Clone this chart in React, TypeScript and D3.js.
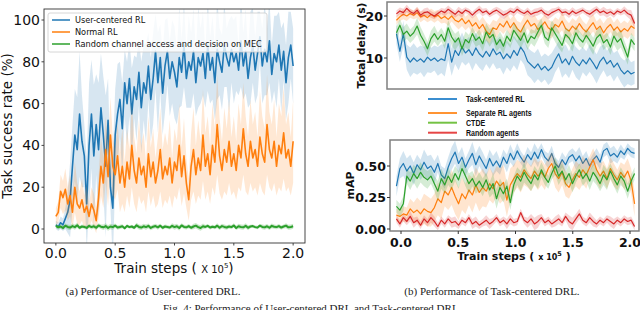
import React from 'react';
import * as d3 from 'd3';

// ---------------- Left panel: User-centered DRL (task success rate %) ----------------
const leftXTicks = [0, 0.5, 1.0, 1.5, 2.0];
const leftYTicks = [0, 20, 40, 60, 80, 100];

const userCenteredRL = [2,1,3,2,5,8,14,30,45,38,55,42,35,12,40,55,35,50,38,58,45,30,52,20,10,45,55,62,48,70,60,72,55,68,62,75,58,70,65,78,62,72,85,70,82,65,78,85,72,80,75,68,82,75,88,72,80,76,85,70,82,78,84,72,88,76,82,70,86,80,75,88,82,78,86,80,84,76,90,78,85,72,82,88,76,84,92,78,86,80,90,74,84,80,88,76,85,70,82,88,78];
const userCenteredSpread = [2,2,3,3,5,10,18,20,22,25,30,22,15,22,30,26,34,24,32,26,28,34,20,10,26,22,24,18,22,16,20,18,22,15,20,16,22,18,24,16,20,22,18,24,16,20,22,16,18,20,22,18,24,16,20,14,22,18,20,16,24,18,20,14,22,16,20,18,24,16,18,20,14,22,16,20,18,12,22,16,20,14,22,18,16,20,12,18,22,16,20,14,18,22,16,20,14,18,22,16,18];

const normalRL = [6,8,18,15,19,12,16,8,20,12,10,14,8,11,6,12,9,4,15,30,22,38,25,45,30,26,35,22,30,20,32,24,40,28,22,34,26,30,20,36,25,32,22,28,38,24,30,26,34,22,32,28,40,25,35,22,14,30,38,26,34,28,45,30,36,26,40,32,50,35,28,38,32,42,30,36,28,40,34,48,36,30,42,34,38,30,44,36,32,50,38,34,42,30,40,36,46,34,38,30,42];
const normalSpread = [4,5,8,8,10,8,10,8,12,10,8,10,8,10,6,8,8,6,10,14,12,16,14,18,14,12,16,14,18,12,16,14,20,16,14,18,14,16,12,18,14,16,12,16,20,14,16,14,18,12,16,14,20,14,18,12,10,16,20,14,18,14,22,16,18,14,20,16,24,18,14,20,16,20,14,18,14,20,16,22,18,14,20,16,18,14,22,18,16,24,18,16,20,14,20,18,22,16,18,14,20];

const randomMEC = [1.5,0.8,1.2,0.5,1.6,1.0,0.7,1.4,0.9,1.8,0.6,1.2,1.0,0.5,1.5,0.9,1.3,0.6,1.7,1.1,0.8,1.4,0.5,1.2,0.9,1.6,0.7,1.0,1.3,0.4,1.5,0.9,1.2,0.6,1.8,1.0,0.7,1.3,0.9,1.5,0.5,1.1,1.4,0.8,1.6,0.6,1.2,1.0,0.7,1.5,0.9,1.3,0.5,1.7,1.0,0.8,1.4,0.6,1.2,1.6,0.9,0.5,1.3,1.0,1.5,0.7,1.1,0.8,1.6,0.6,1.4,1.0,0.7,1.2,0.9,1.7,0.5,1.3,1.0,0.8,1.5,0.6,1.2,1.4,0.9,0.7,1.6,1.0,0.8,1.3,0.6,1.5,1.1,0.9,1.4,0.7,1.2,1.6,0.8,1.0,1.3];
const randomMECSpread = [1.0,1.2,0.9,1.1,1.3,1.0,0.8,1.2,1.1,0.9,1.2,1.0,1.3,0.9,1.1,1.0,1.2,0.8,1.1,1.0,1.2];

// ---------------- Right panels: Task-centered DRL ----------------
const rightXTicks = [0, 0.5, 1.0, 1.5, 2.0];
const delayTicks = [10, 20];
const mapTicks = [0, 0.25, 0.5];

const delayTaskRL = [15.8,11.6,15.8,10.2,9.0,10.0,9.2,9.8,9.0,10.2,9.4,10.0,9.2,9.8,9.4,13.4,9.0,11.8,10.6,12.6,11.2,12.0,10.6,12.4,11.0,10.2,11.6,10.4,12.2,10.8,11.4,9.8,11.0,10.0,11.8,10.6,12.6,11.4,9.2,8.4,7.6,8.6,7.2,8.0,7.0,7.8,9.6,11.0,8.8,9.8,8.4,10.4,9.0,8.2,9.6,8.6,10.0,8.8,7.4,9.2,10.2,8.6,9.4,7.8,8.8,7.2,6.2,7.0,6.2,6.6];
const delayTaskSpread = [2.5,3.0,3.5,3.2,3.6,3.0,3.4,3.8,3.2,3.5,3.0,3.6,3.3,3.0,3.4,3.7,3.2,3.5,3.0,3.3,3.6,3.1,3.4,3.0,3.5,3.2,3.6,3.0,3.3,3.5,3.1,3.4,3.0,3.2,2.8];
const delaySeparate = [19.0,19.8,20.4,20.0,20.6,20.2,20.8,19.8,20.2,19.6,20.4,19.8,20.2,19.4,19.9,19.2,20.0,19.0,18.6,19.4,18.2,19.0,17.6,18.4,17.0,18.0,16.4,15.6,17.2,16.8,18.2,17.4,18.8,17.2,18.4,17.0,16.2,17.8,19.0,17.6,18.2,16.8,17.6,18.6,17.2,16.6,18.0,17.4,18.8,17.0,16.4,17.6,16.8,18.2,17.0,16.2,17.4,18.4,16.8,17.6,16.0,17.2,18.0,16.6,17.4,16.2,17.0,16.4,17.6,17.0];
const delaySeparateSpread = [1.0,1.2,1.0,1.3,1.1,1.4,1.2,1.5,1.3,1.8,1.6,2.0,1.8,2.2,1.9,1.7,2.0,1.8,2.2,1.9,2.1,1.8,2.0,1.7,2.2,1.9,2.0,1.8,2.1,1.9,2.2,1.8,2.0,1.9,2.0];
const delayCTDE = [16.0,17.8,15.6,16.4,15.2,16.0,17.6,15.4,14.0,12.2,14.6,15.8,14.4,15.6,14.0,17.2,15.0,13.8,14.8,12.2,14.4,13.6,15.8,14.2,15.0,13.4,16.2,14.8,15.6,13.2,14.4,12.8,15.2,14.0,16.6,15.4,14.2,16.0,13.6,15.2,14.6,16.2,17.8,15.0,14.2,17.2,15.8,14.4,13.0,15.6,14.8,13.4,16.0,14.6,13.8,15.4,14.2,12.8,14.8,15.6,13.6,14.4,12.6,15.2,13.8,14.6,12.4,10.2,14.4,13.2];
const delayCTDESpread = [1.5,1.8,1.6,2.0,1.7,1.9,1.6,1.8,2.0,1.7,1.9,1.6,1.8,2.1,1.7,1.9,1.6,1.8,2.0,1.7,1.9,1.6,1.8,2.0,1.7,1.9,1.8,1.6,2.0,1.8,1.7,1.9,2.1,1.8,1.6];
const delayRandom = [20.5,21.2,20.8,21.8,21.0,20.6,21.4,20.2,20.8,21.0,20.4,20.0,20.6,21.2,20.8,21.6,21.0,20.4,21.2,20.6,21.4,21.0,20.2,21.0,21.6,20.8,21.2,20.4,21.0,21.4,20.8,20.2,20.6,21.2,20.8,21.6,21.0,20.6,21.2,20.4,20.8,21.0,21.4,20.6,20.2,20.8,21.2,21.6,20.8,21.0,20.4,21.2,20.6,21.0,21.4,20.8,20.4,21.0,21.6,20.8,21.2,20.6,21.0,20.4,21.2,20.8,21.4,20.6,20.2,18.2];
const delayRandomSpread = [0.8,0.9,0.7,0.8,1.0,0.8,0.7,0.9,0.8,1.0,0.7,0.8,0.9,0.7,0.8,1.0,0.8,0.9,0.7,0.8,0.9,0.8,1.0,0.7,0.8,0.9,0.8,0.7,0.9,0.8,1.0,0.8,0.7,0.9,1.2];

const mapTaskRL = [0.34,0.48,0.52,0.46,0.50,0.44,0.51,0.47,0.53,0.48,0.50,0.45,0.52,0.43,0.40,0.49,0.56,0.61,0.52,0.57,0.49,0.55,0.60,0.51,0.58,0.53,0.48,0.56,0.50,0.54,0.49,0.57,0.52,0.60,0.55,0.62,0.57,0.53,0.59,0.55,0.61,0.56,0.63,0.57,0.54,0.60,0.52,0.49,0.55,0.51,0.57,0.59,0.54,0.58,0.52,0.56,0.50,0.55,0.58,0.53,0.62,0.64,0.58,0.60,0.57,0.62,0.59,0.64,0.61,0.60];
const mapTaskSpread = [0.08,0.1,0.09,0.08,0.1,0.09,0.07,0.08,0.09,0.08,0.07,0.09,0.08,0.07,0.08,0.06,0.07,0.06,0.05,0.06,0.07,0.05,0.06,0.05,0.06,0.05,0.07,0.06,0.05,0.06,0.05,0.06,0.05,0.04,0.04];
const mapSeparate = [0.11,0.10,0.12,0.11,0.16,0.13,0.15,0.12,0.16,0.14,0.13,0.17,0.24,0.21,0.30,0.27,0.33,0.26,0.20,0.28,0.24,0.31,0.27,0.35,0.29,0.33,0.30,0.36,0.32,0.38,0.34,0.37,0.23,0.35,0.40,0.44,0.41,0.47,0.43,0.40,0.46,0.42,0.45,0.41,0.48,0.52,0.44,0.40,0.45,0.36,0.33,0.39,0.44,0.41,0.47,0.43,0.49,0.55,0.47,0.42,0.46,0.40,0.48,0.43,0.39,0.45,0.41,0.46,0.38,0.20];
const mapSeparateSpread = [0.05,0.06,0.08,0.1,0.12,0.11,0.13,0.12,0.14,0.13,0.12,0.14,0.15,0.13,0.12,0.14,0.13,0.11,0.12,0.1,0.11,0.1,0.09,0.11,0.1,0.09,0.1,0.11,0.09,0.1,0.08,0.09,0.08,0.1,0.1];
const mapCTDE = [0.18,0.15,0.20,0.42,0.38,0.44,0.40,0.45,0.41,0.39,0.42,0.36,0.30,0.40,0.35,0.42,0.37,0.44,0.39,0.48,0.42,0.36,0.40,0.34,0.38,0.33,0.39,0.31,0.36,0.24,0.33,0.28,0.34,0.21,0.35,0.42,0.38,0.45,0.40,0.36,0.43,0.39,0.47,0.41,0.37,0.44,0.50,0.42,0.46,0.39,0.44,0.36,0.42,0.47,0.40,0.44,0.38,0.45,0.41,0.36,0.43,0.39,0.46,0.40,0.35,0.42,0.38,0.30,0.38,0.44];
const mapCTDESpread = [0.05,0.06,0.07,0.08,0.07,0.06,0.08,0.07,0.06,0.07,0.08,0.06,0.07,0.06,0.08,0.07,0.06,0.07,0.08,0.06,0.07,0.06,0.05,0.07,0.06,0.07,0.05,0.06,0.07,0.06,0.08,0.06,0.07,0.06,0.05];
const mapRandom = [0.08,0.04,0.09,0.06,0.10,0.05,0.07,0.03,0.08,0.05,0.09,0.06,0.02,0.07,0.04,0.08,0.05,0.06,0.03,0.07,0.05,0.09,0.04,0.06,0.03,0.05,0.07,0.04,0.06,0.09,0.05,0.07,0.04,0.08,0.05,0.06,0.13,0.07,0.05,0.08,0.04,0.06,0.09,0.05,0.07,0.04,0.06,0.08,0.05,0.10,0.06,0.04,0.08,0.12,0.07,0.05,0.09,0.06,0.04,0.07,0.05,0.08,0.06,0.04,0.07,0.05,0.08,0.06,0.07,0.02];
const mapRandomSpread = [0.03,0.03,0.04,0.03,0.03,0.04,0.03,0.03,0.04,0.03,0.03,0.04,0.03,0.04,0.03,0.03,0.04,0.03,0.03,0.04,0.05,0.03,0.03,0.04,0.03,0.05,0.04,0.03,0.04,0.03,0.03,0.04,0.03,0.03,0.03];

const leftLegend = ['User-centered RL', 'Normal RL', 'Random channel access and decision on MEC'];
const rightLegend = ['Task-centered RL', 'Separate RL agents', 'CTDE', 'Random agents'];

const C = { blue: '#1f77b4', orange: '#ff7f0e', green: '#2ca02c', red: '#d62728' };
const LEG = { blue: '#3b8ed0', orange: '#ff9433', green: '#74c244', red: '#e64545' };

const leftSteps = (n: number) => d3.range(n).map(i => (2 * i) / (n - 1));
const rightSteps = (n: number) => d3.range(n).map(i => -0.04 + (2.08 * i) / (n - 1));

function Series({ xs, ys, spread, x, y, color, width, alpha = 0.2 }: any) {
  const n = ys.length;
  const pts = ys.map((v: number, i: number) => ({
    x: xs[i],
    v,
    s: spread[Math.min(spread.length - 1, Math.floor((i * spread.length) / n))],
  }));
  const area = d3.area<any>().x(d => x(d.x)).y0(d => y(d.v - d.s)).y1(d => y(d.v + d.s));
  const line = d3.line<any>().x(d => x(d.x)).y(d => y(d.v));
  return (
    <g>
      <path d={area(pts) || ''} fill={color} fillOpacity={alpha} stroke="none" />
      <path d={line(pts) || ''} fill="none" stroke={color} strokeWidth={width} strokeLinejoin="round" />
    </g>
  );
}

export default function App() {
  const L = { x0: 44, x1: 305, y0: 9, y1: 243 };
  const lx = d3.scaleLinear().domain([-0.1, 2.1]).range([L.x0, L.x1]);
  const ly = d3.scaleLinear().domain([0, 100]).range([229, 20]);
  const lxs = leftSteps(userCenteredRL.length);

  const RT = { x0: 387, x1: 638, y0: 2, y1: 89 };
  const RB = { x0: 390, x1: 639, y0: 140, y1: 231 };
  const rx = d3.scaleLinear().domain([0, 2]).range([401, 630]);
  const rty = d3.scaleLinear().domain([10, 20]).range([58, 16]);
  const rby = d3.scaleLinear().domain([0, 0.5]).range([229, 166]);
  const rxs = rightSteps(delayTaskRL.length);

  const sans = 'DejaVu Sans, sans-serif';
  const serif = 'Liberation Serif, Times New Roman, serif';

  return (
    <svg width={640} height={310} style={{ position: 'absolute', left: 0, top: 0, background: '#fff' }} fontFamily={sans}>
      <defs>
        <clipPath id="clipL"><rect x={L.x0} y={L.y0} width={L.x1 - L.x0} height={L.y1 - L.y0} /></clipPath>
        <clipPath id="clipRT"><rect x={RT.x0} y={RT.y0} width={RT.x1 - RT.x0} height={RT.y1 - RT.y0} /></clipPath>
        <clipPath id="clipRB"><rect x={RB.x0} y={RB.y0} width={RB.x1 - RB.x0} height={RB.y1 - RB.y0} /></clipPath>
      </defs>
      <rect width={640} height={310} fill="#fff" />

      {/* ---------- LEFT PANEL ---------- */}
      <g clipPath="url(#clipL)">
        <Series xs={lxs} ys={userCenteredRL} spread={userCenteredSpread} x={lx} y={ly} color={C.blue} width={1.6} alpha={0.18} />
        <Series xs={leftSteps(normalRL.length)} ys={normalRL} spread={normalSpread} x={lx} y={ly} color={C.orange} width={1.6} alpha={0.18} />
        <Series xs={leftSteps(randomMEC.length)} ys={randomMEC} spread={randomMECSpread} x={lx} y={ly} color={C.green} width={2} alpha={0.25} />
      </g>
      <rect x={L.x0} y={L.y0} width={L.x1 - L.x0} height={L.y1 - L.y0} fill="none" stroke="#333" strokeWidth={0.9} />
      {leftYTicks.map(t => (
        <g key={'ly' + t}>
          <line x1={L.x0 - 2.5} x2={L.x0} y1={ly(t)} y2={ly(t)} stroke="#333" strokeWidth={0.9} />
          <text x={L.x0 - 4} y={ly(t) + 5} textAnchor="end" fontSize={14} fill="#111">{t}</text>
        </g>
      ))}
      {leftXTicks.map(t => (
        <g key={'lx' + t}>
          <line x1={lx(t)} x2={lx(t)} y1={L.y1} y2={L.y1 + 2.5} stroke="#333" strokeWidth={0.9} />
          <text x={lx(t)} y={258} textAnchor="middle" fontSize={14} fill="#111">{t.toFixed(1)}</text>
        </g>
      ))}
      <text x={174} y={273} textAnchor="middle" fill="#111">
        <tspan fontSize={13.5}>Train steps ( </tspan>
        <tspan fontSize={10}>X 10</tspan>
        <tspan fontSize={7} dy={-5}>5</tspan>
        <tspan fontSize={13.5} dy={5}>)</tspan>
      </text>
      <text transform={`translate(12,${(L.y0 + L.y1) / 2}) rotate(-90)`} textAnchor="middle" fontSize={13.5} fill="#111">Task success rate (%)</text>
      <rect x={48} y={13} width={219} height={39} rx={2} fill="#fff" fillOpacity={0.8} stroke="#ccc" strokeWidth={0.8} />
      {leftLegend.map((name, i) => (
        <g key={name}>
          <line x1={52} x2={70} y1={20 + i * 12} y2={20 + i * 12} stroke={[C.blue, C.orange, C.green][i]} strokeWidth={1.5} />
          <text x={75} y={23 + i * 12} fontSize={8.2} fill="#111">{name}</text>
        </g>
      ))}
      <text x={153} y={295} textAnchor="middle" fontFamily={serif} fontSize={11} fill="#222">(a) Performance of User-centered DRL.</text>

      {/* ---------- RIGHT TOP PANEL ---------- */}
      <g clipPath="url(#clipRT)">
        <Series xs={rxs} ys={delayTaskRL} spread={delayTaskSpread} x={rx} y={rty} color={C.blue} width={1.2} alpha={0.2} />
        <Series xs={rxs} ys={delaySeparate} spread={delaySeparateSpread} x={rx} y={rty} color={C.orange} width={1.2} alpha={0.2} />
        <Series xs={rxs} ys={delayCTDE} spread={delayCTDESpread} x={rx} y={rty} color={C.green} width={1.2} alpha={0.2} />
        <Series xs={rxs} ys={delayRandom} spread={delayRandomSpread} x={rx} y={rty} color={C.red} width={1.2} alpha={0.2} />
      </g>
      <rect x={RT.x0} y={RT.y0} width={RT.x1 - RT.x0} height={RT.y1 - RT.y0} fill="none" stroke="#808080" strokeWidth={1.5} />
      {delayTicks.map(t => (
        <g key={'rt' + t}>
          <line x1={RT.x0 - 3} x2={RT.x0} y1={rty(t)} y2={rty(t)} stroke="#333" strokeWidth={1} />
          <text x={RT.x0 - 4} y={rty(t) + 4.5} textAnchor="end" fontSize={12.5} fontWeight="bold" fill="#111">{t}</text>
        </g>
      ))}
      <text transform={`translate(365,${(RT.y0 + RT.y1) / 2}) rotate(-90)`} textAnchor="middle" fontSize={10.8} fontWeight="bold" fill="#111">Total delay (s)</text>

      {rightLegend.map((name, i) => {
        const yy = [99, 113, 122.7, 132.7][i];
        const col = [LEG.blue, LEG.orange, LEG.green, LEG.red][i];
        return (
          <g key={name}>
            <line x1={428} x2={457} y1={yy} y2={yy} stroke={col} strokeWidth={2} />
            <g transform={`translate(466,${yy + 3}) scale(0.82,1)`}>
              <text x={0} y={0} fontFamily="Liberation Sans, Arial, sans-serif" fontWeight="bold" fontSize={8.6} fill="#111">{name}</text>
            </g>
          </g>
        );
      })}

      {/* ---------- RIGHT BOTTOM PANEL ---------- */}
      <g clipPath="url(#clipRB)">
        <Series xs={rxs} ys={mapTaskRL} spread={mapTaskSpread} x={rx} y={rby} color={C.blue} width={1.2} alpha={0.2} />
        <Series xs={rxs} ys={mapSeparate} spread={mapSeparateSpread} x={rx} y={rby} color={C.orange} width={1.2} alpha={0.2} />
        <Series xs={rxs} ys={mapCTDE} spread={mapCTDESpread} x={rx} y={rby} color={C.green} width={1.2} alpha={0.2} />
        <Series xs={rxs} ys={mapRandom} spread={mapRandomSpread} x={rx} y={rby} color={C.red} width={1.2} alpha={0.2} />
      </g>
      <rect x={RB.x0} y={RB.y0} width={RB.x1 - RB.x0} height={RB.y1 - RB.y0} fill="none" stroke="#808080" strokeWidth={1.5} />
      {mapTicks.map(t => (
        <g key={'rb' + t}>
          <line x1={RB.x0 - 3} x2={RB.x0} y1={rby(t)} y2={rby(t)} stroke="#333" strokeWidth={1} />
          <text x={RB.x0 - 4} y={rby(t) + 4.5} textAnchor="end" fontSize={12.5} fontWeight="bold" fill="#111">{t.toFixed(2)}</text>
        </g>
      ))}
      {rightXTicks.map(t => (
        <g key={'rbx' + t}>
          <line x1={rx(t)} x2={rx(t)} y1={RB.y1} y2={RB.y1 + 3} stroke="#333" strokeWidth={1} />
          <text x={rx(t)} y={247} textAnchor="middle" fontSize={12.5} fontWeight="bold" fill="#111">{t.toFixed(1)}</text>
        </g>
      ))}
      <text transform={`translate(354,${(RB.y0 + RB.y1) / 2}) rotate(-90)`} textAnchor="middle" fontSize={11} fontWeight="bold" fill="#111">mAP</text>
      <text x={514} y={260} textAnchor="middle" fontWeight="bold" fill="#111">
        <tspan fontSize={11}>Train steps ( </tspan>
        <tspan fontSize={8}>x 10</tspan>
        <tspan fontSize={6.5} dy={-4}>5</tspan>
        <tspan fontSize={11} dy={4}> )</tspan>
      </text>
      <text x={492} y={295} textAnchor="middle" fontFamily={serif} fontSize={11} fill="#222">(b) Performance of Task-centered DRL.</text>

      <text x={163} y={312} fontFamily={serif} fontSize={11} fill="#222">Fig. 4: Performance of User-centered DRL and Task-centered DRL.</text>
    </svg>
  );
}
